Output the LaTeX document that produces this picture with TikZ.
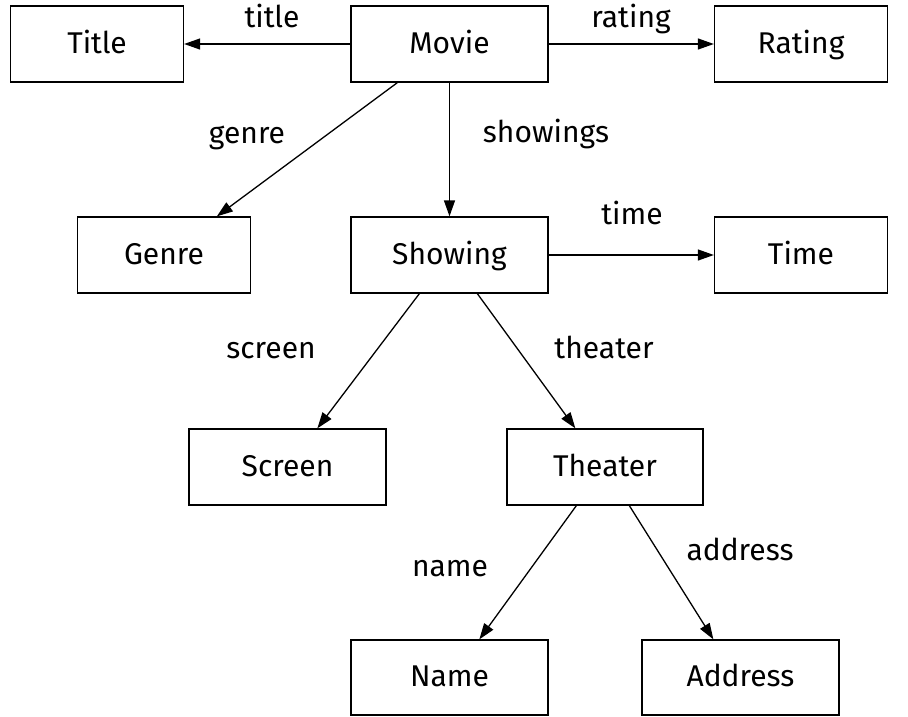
\documentclass[tikz,border=0pt]{standalone}
\usepackage{fontspec}
\setmainfont{Fira Sans}
\usetikzlibrary{arrows.meta}
\begin{document}
\begin{tikzpicture}[x=1pt,y=-1pt,
  box/.style={draw,line width=1.3pt,minimum height=76pt,inner sep=0pt,
    text height=22pt,text depth=4pt,font=\fontsize{30}{36}\selectfont},
  narrow/.style={box,minimum width=173pt},
  wide/.style={box,minimum width=197pt},
  lbl/.style={anchor=base,inner sep=0pt,font=\fontsize{30}{36}\selectfont},
  arr/.style={line width=1.3pt,-{Triangle[length=16pt,width=11pt]}}]
\useasboundingbox (0,0) rectangle (908,716);
\node[narrow] (title) at (97,44) {Title};
\node[wide] (movie) at (449.5,44) {Movie};
\node[narrow] (rating) at (801,44) {Rating};
\node[narrow] (genre) at (164,255) {Genre};
\node[wide] (showing) at (449.5,255) {Showing};
\node[narrow] (time) at (801,255) {Time};
\node[wide] (screen) at (287.5,467) {Screen};
\node[wide,minimum width=196pt] (theater) at (605,467) {Theater};
\node[wide,minimum height=75pt] (name) at (449.5,677.5) {Name};
\node[wide,minimum height=75pt] (address) at (740.5,677.5) {Address};

\draw[arr] (movie.west) -- (title.east);
\draw[arr] (movie.east) -- (rating.west);
\draw[arr] ([xshift=47pt]movie.south west) -- ([xshift=140pt]genre.north west);
\draw[arr] (movie.south) -- (showing.north);
\draw[arr] (showing.east) -- (time.west);
\draw[arr] ([xshift=69pt]showing.south west) -- ([xshift=129pt]screen.north west);
\draw[arr] ([xshift=127pt]showing.south west) -- ([xshift=69pt]theater.north west);
\draw[arr] ([xshift=70pt]theater.south west) -- ([xshift=129pt]name.north west);
\draw[arr] ([xshift=123pt]theater.south west) -- ([xshift=72pt]address.north west);

\node[lbl] (ltitle) at (272,27) {title};
\node[lbl] (lrating) at (631,27) {rating};
\node[lbl] (lgenre) at (247,143) {genre};
\node[lbl] (lshowings) at (546,142) {showings};
\node[lbl] (ltime) at (632,224) {time};
\node[lbl] (lscreen) at (271,358) {screen};
\node[lbl] (ltheater) at (604,358) {theater};
\node[lbl] (lname) at (450,576) {name};
\node[lbl] (laddress) at (740,560) {address};
\end{tikzpicture}
\end{document}
